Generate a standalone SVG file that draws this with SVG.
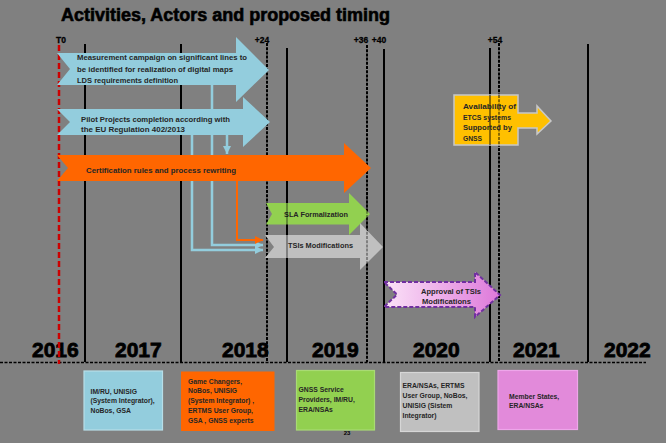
<svg xmlns="http://www.w3.org/2000/svg" width="666" height="443" viewBox="0 0 666 443">
<defs>
<style>
.t{font-family:"Liberation Sans",Arial,sans-serif;font-weight:bold;fill:#262626;font-size:7.7px}
.b{font-family:"Liberation Sans",Arial,sans-serif;font-weight:bold;fill:#262626;font-size:6.8px}
.yr{font-family:"Liberation Sans",Arial,sans-serif;font-weight:bold;font-size:21px;fill:#000;stroke:#000;stroke-width:0.8}
.mk{font-family:"Liberation Sans",Arial,sans-serif;font-weight:bold;font-size:8.5px;fill:#000;stroke:#000;stroke-width:0.3;text-anchor:middle}
.sol{stroke:#000;stroke-width:2}
.dsh{stroke:#000;stroke-width:2;stroke-dasharray:3 1.2}
.cb{fill:none;stroke:#93CDDD;stroke-width:2.5}
.co{fill:none;stroke:#FF6600;stroke-width:2}
</style>
<marker id="ab" markerUnits="userSpaceOnUse" markerWidth="8" markerHeight="8" refX="8" refY="4" orient="auto"><path d="M0,0 L8,4 L0,8 z" fill="#93CDDD"/></marker>
<marker id="ao" markerUnits="userSpaceOnUse" markerWidth="8" markerHeight="8" refX="8" refY="4" orient="auto"><path d="M0,0 L8,4 L0,8 z" fill="#FF6600"/></marker>
<linearGradient id="gp" x1="0" y1="0" x2="1" y2="0"><stop offset="0" stop-color="#FBE3F8"/><stop offset="1" stop-color="#DE78DA"/></linearGradient>
</defs>
<rect x="0" y="0" width="666" height="443" fill="#808080"/>
<text x="61" y="21" font-family="'Liberation Sans',Arial,sans-serif" font-weight="bold" font-size="17.5" fill="#000" stroke="#000" stroke-width="0.6" textLength="329" lengthAdjust="spacingAndGlyphs">Activities, Actors and proposed timing</text>
<g id="years">
<text class="yr" x="32" y="357">2016</text>
<text class="yr" x="115" y="357">2017</text>
<text class="yr" x="222" y="357">2018</text>
<text class="yr" x="312" y="357">2019</text>
<text class="yr" x="413" y="357">2020</text>
<text class="yr" x="513" y="357">2021</text>
<text class="yr" x="604" y="357">2022</text>
</g>
<g id="grid">
<line class="sol" x1="85" y1="44" x2="85" y2="362"/>
<line class="sol" x1="181" y1="44" x2="181" y2="362"/>
<line class="dsh" x1="267" y1="43" x2="267" y2="362"/>
<line class="sol" x1="287" y1="48" x2="287" y2="362"/>
<line class="dsh" x1="367" y1="45" x2="367" y2="362"/>
<line class="sol" x1="384" y1="49" x2="384" y2="362"/>
<line class="sol" x1="490" y1="48" x2="490" y2="362"/>
<line class="dsh" x1="499" y1="43" x2="499" y2="362"/>
<line class="sol" x1="588" y1="44" x2="588" y2="362"/>
<line x1="0" y1="362.5" x2="646" y2="362.5" stroke="#000" stroke-width="1.5" stroke-dasharray="3 1.5"/>
<line x1="59" y1="45" x2="59" y2="364" stroke="#CC0000" stroke-width="2.5" stroke-dasharray="6 3"/>
<text class="mk" x="61" y="43">T0</text>
<text class="mk" x="262" y="43">+24</text>
<text class="mk" x="361" y="43">+36</text>
<text class="mk" x="379" y="43">+40</text>
<text class="mk" x="495" y="43">+54</text>
</g>
<g id="connectors">
<path class="cb" d="M212,85 V245 H263" marker-end="url(#ab)"/>
<path class="cb" d="M192,135 V250 H263" marker-end="url(#ab)"/>
<path class="cb" d="M227,135 V154" marker-end="url(#ab)"/>
<path class="co" d="M237,181 V240 H263" marker-end="url(#ao)"/>
</g>
<g id="measurement">
<polygon points="57,53 236,53 236,37 269,70 236,102 236,85 57,85 70,69" fill="#93CDDD"/>
<text class="t" x="77" y="60" textLength="170" lengthAdjust="spacingAndGlyphs">Measurement campaign  on significant  lines to</text>
<text class="t" x="77" y="71.5" textLength="156" lengthAdjust="spacingAndGlyphs">be identified for realization of digital maps</text>
<text class="t" x="77" y="82.5" textLength="101" lengthAdjust="spacingAndGlyphs">LDS requirements definition</text>
</g>
<g id="pilot">
<polygon points="57,109 243,109 243,97 270,122 243,147 243,135 57,135 70,122" fill="#93CDDD"/>
<text class="t" x="81" y="121.5" textLength="149" lengthAdjust="spacingAndGlyphs">Pilot Projects completion according  with</text>
<text class="t" x="81" y="131.5" textLength="104" lengthAdjust="spacingAndGlyphs">the EU Regulation 402/2013</text>
</g>
<g id="certification">
<polygon points="57,155 344,155 344,143 371,168 344,193 344,181 57,181 68,168" fill="#FF6600"/>
<text class="t" x="86" y="172.5" textLength="150" lengthAdjust="spacingAndGlyphs">Certification rules  and process rewriting</text>
</g>
<g id="sla">
<polygon points="266,203 349,203 349,193 370,214 349,235 349,224.5 266,224.5 272,214" fill="#92D050"/>
<text class="t" x="284" y="216.5" textLength="64" lengthAdjust="spacingAndGlyphs">SLA Formalization</text>
</g>
<g id="tsi">
<polygon points="265,235 360,235 360,223 383,247 360,270 360,258 265,258 274,247" fill="#C0C0C0"/>
<text class="t" x="288" y="248" textLength="65" lengthAdjust="spacingAndGlyphs">TSIs Modifications</text>
</g>
<g id="overlay-lines" opacity="0.55">
<line x1="287" y1="193" x2="287" y2="270" stroke="#000" stroke-width="1.2"/>
<line x1="367" y1="194" x2="367" y2="270" stroke="#000" stroke-width="1.2" stroke-dasharray="3 1.2"/>
</g>
<g id="availability">
<path d="M454,95 H518 V113 H537 V106 L551,121 L537,134 V128 H518 V145 H454 Z" fill="#FFC000" stroke="#C8C8C8" stroke-width="1.5"/>
<line x1="490" y1="95" x2="490" y2="145" stroke="#000" stroke-width="1.5" opacity="0.6"/>
<line x1="499" y1="95" x2="499" y2="145" stroke="#000" stroke-width="1.5" stroke-dasharray="3 1.2" opacity="0.6"/>
<text class="t" x="463" y="109" textLength="53" lengthAdjust="spacingAndGlyphs">Availability  of</text>
<text class="t" x="463" y="119.7" textLength="48" lengthAdjust="spacingAndGlyphs">ETCS systems</text>
<text class="t" x="463" y="130.4" textLength="49" lengthAdjust="spacingAndGlyphs">Supported by</text>
<text class="t" x="463" y="141.1" textLength="19" lengthAdjust="spacingAndGlyphs">GNSS</text>
</g>
<g id="approval">
<polygon points="384,282 475,282 475,272 500,295 475,317 475,307 384,307 397,294.5" fill="url(#gp)" stroke="#7030A0" stroke-width="2" stroke-dasharray="4 2"/>
<text class="t" x="421" y="293.5" textLength="60" lengthAdjust="spacingAndGlyphs">Approval  of TSIs</text>
<text class="t" x="422" y="303.5" textLength="49" lengthAdjust="spacingAndGlyphs">Modifications</text>
</g>
<g id="actors1">
<rect x="84" y="371" width="78.5" height="59" fill="#93CDDD" stroke="#B7DEE8" stroke-width="1.2"/>
<text class="b" x="90.5" y="393.5">IM/RU, UNISIG</text>
<text class="b" x="90.5" y="403">(System Integrator),</text>
<text class="b" x="90.5" y="412.5">NoBos, GSA</text>
</g>
<g id="actors2">
<rect x="181" y="371.5" width="93.5" height="59.5" fill="#FF6600"/>
<text class="b" x="188" y="383.5">Game Changers,</text>
<text class="b" x="188" y="393">NoBos,  UNISIG</text>
<text class="b" x="188" y="403">(System Integrator) ,</text>
<text class="b" x="188" y="412.5">ERTMS User Group,</text>
<text class="b" x="188" y="422.5">GSA , GNSS experts</text>
</g>
<g id="actors3">
<rect x="296.5" y="370.5" width="78" height="59.5" fill="#92D050" stroke="#A9DA74" stroke-width="1.2"/>
<text class="b" x="298.5" y="391.5">GNSS Service</text>
<text class="b" x="298.5" y="401.5">Providers, IM/RU,</text>
<text class="b" x="298.5" y="411.5">ERA/NSAs</text>
</g>
<g id="actors4">
<rect x="400.5" y="372.5" width="78.5" height="59" fill="#C0C0C0" stroke="#D6D6D6" stroke-width="1.2"/>
<text class="b" x="402.5" y="388">ERA/NSAs, ERTMS</text>
<text class="b" x="402.5" y="398">User Group,  NoBos,</text>
<text class="b" x="402.5" y="408">UNISIG (Sistem</text>
<text class="b" x="402.5" y="417.5">Integrator)</text>
</g>
<g id="actors5">
<rect x="498" y="370.5" width="79.5" height="59" fill="#E28ADA" stroke="#EEA6EA" stroke-width="1.2"/>
<text class="b" x="509" y="398.5">Member States,</text>
<text class="b" x="509" y="408">ERA/NSAs</text>
</g>
<text x="347" y="435" font-family="'Liberation Sans',Arial,sans-serif" font-weight="bold" font-size="6" fill="#000" text-anchor="middle">23</text>
</svg>
